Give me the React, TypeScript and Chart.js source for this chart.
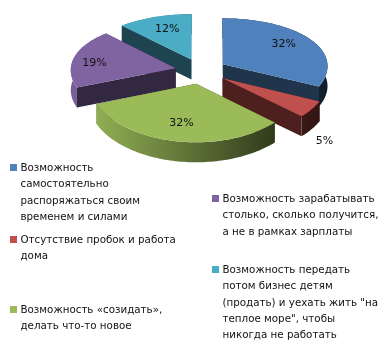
import React, { useEffect, useRef } from "react";
import { Chart, registerables } from "chart.js";

Chart.register(...registerables);

const categories = [
  "Возможность самостоятельно распоряжаться своим временем и силами",
  "Отсутствие пробок и работа дома",
  "Возможность «созидать», делать что-то новое",
  "Возможность зарабатывать столько, сколько получится, а не в рамках зарплаты",
  "Возможность передать потом бизнес детям (продать) и уехать жить \"на теплое море\", чтобы никогда не работать",
];
const shares = [32, 5, 32, 19, 12];
const colors = ["#4f81bd", "#c0504d", "#9bbb59", "#8064a2", "#4bacc6"];
const legendLines = [
  ["Возможность", "самостоятельно", "распоряжаться своим", "временем и силами"],
  ["Отсутствие пробок и работа", "дома"],
  ["Возможность «созидать»,", "делать что-то новое"],
  ["Возможность зарабатывать", "столько, сколько получится,", "а не в рамках зарплаты"],
  ["Возможность передать", "потом бизнес детям", "(продать) и уехать жить \"на", "теплое море\", чтобы", "никогда не работать"],
];
const legendX = [10, 10, 10, 212, 212];
const legendY = [159, 231, 301, 190, 261];
const labelRadius = [0.7, 1.14, 0.72, 0.8, 0.65];
const labelDrop = [-2, 27, -1, 4, -2];

const EXPLODE = 26;
const TILT = 0.487;
const PERSPECTIVE = 0.087;
const PERSPECTIVE_X = 0.03;
const DEPTH = 20;
const CENTER_Y = 71;

function shade(hex: string, f: number) {
  const n = parseInt(hex.slice(1), 16);
  const c = [(n >> 16) & 255, (n >> 8) & 255, n & 255].map((v) => Math.round(v * f));
  return `rgb(${c[0]},${c[1]},${c[2]})`;
}

const pie3d = {
  id: "pie3d",
  beforeDatasetsDraw(chart: any) {
    const ctx = chart.ctx;
    const arcs: any[] = chart.getDatasetMeta(0).data;
    const project = (arc: any, u: number, v: number, drop: number) => {
      const r = arc.outerRadius;
      return {
        x: arc.x + (r * u) / (1 - PERSPECTIVE_X * v),
        y: CENTER_Y + (r * TILT * v) / (1 - PERSPECTIVE * v) + drop,
      };
    };
    const slices = arcs.map((arc, i) => {
      const mid = (arc.startAngle + arc.endAngle) / 2;
      const e = EXPLODE / arc.outerRadius;
      const ou = Math.cos(mid) * e;
      const ov = Math.sin(mid) * e;
      const steps = Math.max(4, Math.round((arc.endAngle - arc.startAngle) * 40));
      const rim: { u: number; v: number }[] = [];
      for (let s = 0; s <= steps; s++) {
        const a = arc.startAngle + ((arc.endAngle - arc.startAngle) * s) / steps;
        rim.push({ u: ou + Math.cos(a), v: ov + Math.sin(a) });
      }
      return { arc, i, mid, ou, ov, rim };
    });
    const order = [...slices].sort((a, b) => a.ov - b.ov);
    ctx.save();
    for (const s of order) {
      const color = colors[s.i];
      const apex = { u: s.ou, v: s.ov };
      const first = s.rim[0];
      const last = s.rim[s.rim.length - 1];
      const wall = (q: { u: number; v: number }) => {
        const p1 = project(s.arc, apex.u, apex.v, 0);
        const p2 = project(s.arc, q.u, q.v, 0);
        const p3 = project(s.arc, q.u, q.v, DEPTH);
        const p4 = project(s.arc, apex.u, apex.v, DEPTH);
        ctx.beginPath();
        ctx.moveTo(p1.x, p1.y);
        ctx.lineTo(p2.x, p2.y);
        ctx.lineTo(p3.x, p3.y);
        ctx.lineTo(p4.x, p4.y);
        ctx.closePath();
        ctx.fillStyle = shade(color, 0.4);
        ctx.fill();
      };
      const startFront = -Math.cos(s.arc.startAngle) > 0;
      const endFront = Math.cos(s.arc.endAngle) > 0;
      if (!startFront) wall(first);
      if (!endFront) wall(last);
      const x0 = project(s.arc, s.ou - 1, 0, 0).x;
      const x1 = project(s.arc, s.ou + 1, 0, 0).x;
      const grad = ctx.createLinearGradient(x0, 0, x1, 0);
      grad.addColorStop(0, shade(color, 0.95));
      grad.addColorStop(1, shade(color, 0.22));
      ctx.beginPath();
      s.rim.forEach((q, k) => {
        const p = project(s.arc, q.u, q.v, 0);
        if (k === 0) ctx.moveTo(p.x, p.y);
        else ctx.lineTo(p.x, p.y);
      });
      [...s.rim].reverse().forEach((q) => {
        const p = project(s.arc, q.u, q.v, DEPTH);
        ctx.lineTo(p.x, p.y);
      });
      ctx.closePath();
      ctx.fillStyle = grad;
      ctx.fill();
      if (startFront) wall(first);
      if (endFront) wall(last);
      ctx.beginPath();
      const ap = project(s.arc, apex.u, apex.v, 0);
      ctx.moveTo(ap.x, ap.y);
      for (const q of s.rim) {
        const p = project(s.arc, q.u, q.v, 0);
        ctx.lineTo(p.x, p.y);
      }
      ctx.closePath();
      ctx.fillStyle = color;
      ctx.fill();
    }
    ctx.font = "11px 'DejaVu Sans'";
    ctx.fillStyle = "#111";
    ctx.textAlign = "center";
    ctx.textBaseline = "middle";
    for (const s of slices) {
      const f = labelRadius[s.i];
      const p = project(s.arc, s.ou + Math.cos(s.mid) * f, s.ov + Math.sin(s.mid) * f, labelDrop[s.i]);
      ctx.fillText(`${shares[s.i]}%`, p.x, p.y);
    }
    ctx.restore();
    return false;
  },
};

export default function App() {
  const ref = useRef<HTMLCanvasElement>(null);
  useEffect(() => {
    const chart = new Chart(ref.current!, {
      type: "pie",
      data: {
        labels: categories,
        datasets: [{ data: shares, backgroundColor: colors, offset: EXPLODE, borderWidth: 0 }],
      },
      options: {
        responsive: false,
        animation: false,
        layout: { padding: { left: 83, right: 73, top: 0, bottom: 118 } },
        plugins: { legend: { display: false }, tooltip: { enabled: false } },
      },
      plugins: [pie3d],
    } as any);
    return () => chart.destroy();
  }, []);
  return (
    <div style={{ position: "absolute", left: 0, top: 0, width: 392, height: 354, background: "#fff", overflow: "hidden" }}>
      <canvas ref={ref} width={392} height={354} style={{ position: "absolute", left: 0, top: 0 }} />
      {categories.map((name, i) => (
        <div key={name} title={name} style={{ position: "absolute", left: legendX[i], top: legendY[i] }}>
          <div style={{ position: "absolute", left: 0, top: 5, width: 7, height: 7, background: colors[i] }} />
          <div style={{ position: "absolute", left: 10.5, top: 0, whiteSpace: "pre", font: "10.3px/16.3px 'DejaVu Sans'", color: "#111" }}>
            {legendLines[i].join("\n")}
          </div>
        </div>
      ))}
    </div>
  );
}
